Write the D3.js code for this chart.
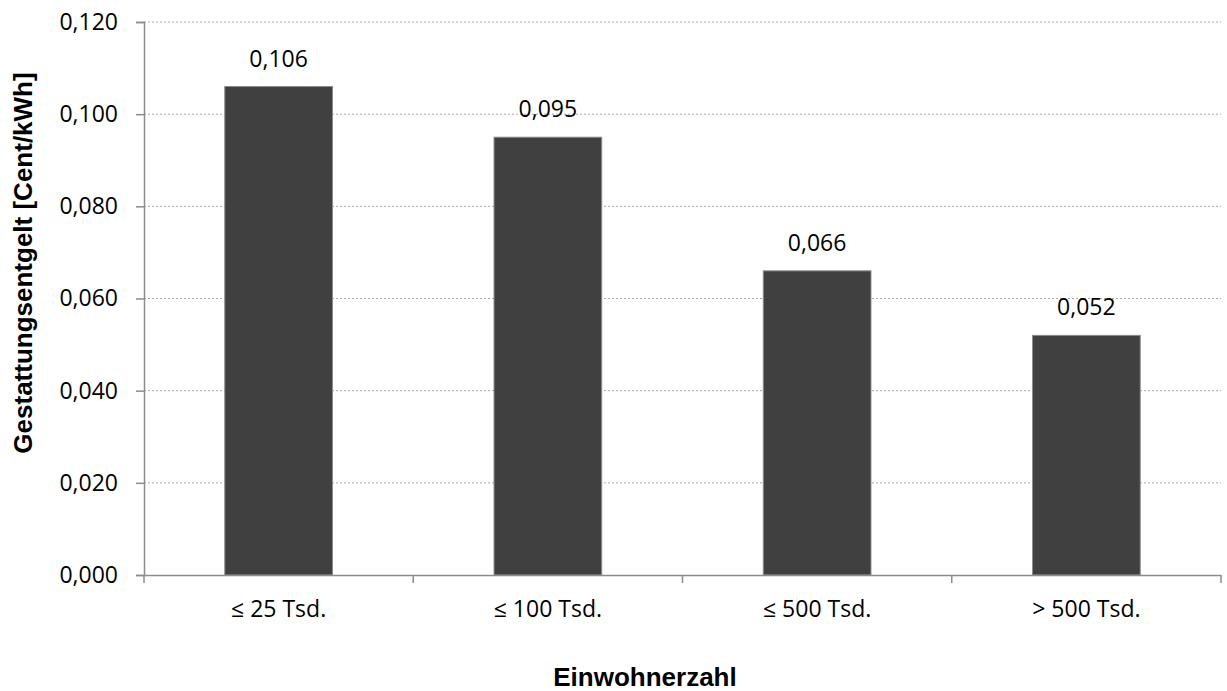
<!DOCTYPE html>
<html><head><meta charset="utf-8">
<script src="https://cdn.jsdelivr.net/npm/d3@7"></script>
<style>html,body{margin:0;padding:0;background:#fff;}</style>
</head><body>
<svg id="c" width="1227" height="691"></svg>
<script>
const categories = ["≤ 25 Tsd.", "≤ 100 Tsd.", "≤ 500 Tsd.", "> 500 Tsd."];
const values = [0.106, 0.095, 0.066, 0.052];
const valueLabels = ["0,106", "0,095", "0,066", "0,052"];
const yTicks = [0, 0.02, 0.04, 0.06, 0.08, 0.10, 0.12];
const yTitle = "Gestattungsentgelt [Cent/kWh]";
const xTitle = "Einwohnerzahl";

(function () {
const svg = d3.select("#c");
const pL = 144, pR = 1221, pT = 22, pB = 575;
const x = d3.scaleBand().domain(categories).range([pL, pR]).padding(0);
const y = d3.scaleLinear().domain([0, 0.12]).range([pB, pT]);
const fmt = d => d3.format(".3f")(d).replace(".", ",");
const tickFont = "'Open Sans', sans-serif";
const fs = "23px";

// gridlines
svg.append("g").selectAll("line").data(yTicks.filter(d => d > 0)).join("line")
  .attr("x1", pL).attr("x2", pR)
  .attr("y1", d => y(d)).attr("y2", d => y(d))
  .attr("stroke", "#a8a8a8").attr("stroke-width", 1).attr("stroke-dasharray", "2,2");

// bars
const bw = x.bandwidth() * 0.4;
svg.append("g").selectAll("rect").data(values).join("rect")
  .attr("x", (d, i) => x(categories[i]) + (x.bandwidth() - bw) / 2)
  .attr("y", d => y(d))
  .attr("width", bw)
  .attr("height", d => y(0) - y(d))
  .attr("fill", "#404040").attr("stroke", "#8c8c8c").attr("stroke-width", 1);

// value labels
svg.append("g").selectAll("text").data(values).join("text")
  .attr("x", (d, i) => x(categories[i]) + x.bandwidth() / 2)
  .attr("y", d => y(d) - 20)
  .attr("text-anchor", "middle")
  .style("font-family", tickFont).style("font-size", fs).attr("fill", "#000")
  .text((d, i) => valueLabels[i]);

// y axis
const yAxis = d3.axisLeft(y).tickValues(yTicks).tickFormat(fmt).tickSize(8).tickPadding(18);
const gy = svg.append("g").attr("transform", `translate(${pL},0)`).call(yAxis);
gy.select(".domain").attr("stroke", "#8c8c8c").attr("stroke-width", 1.5);
gy.selectAll(".tick line").attr("stroke", "#8c8c8c").attr("stroke-width", 1.5);
gy.selectAll("text").style("font-family", tickFont).style("font-size", fs).attr("fill", "#000");

// x axis
const xAxis = d3.axisBottom(x).tickSize(0).tickPadding(26);
const gx = svg.append("g").attr("transform", `translate(0,${pB})`).call(xAxis);
gx.select(".domain").attr("stroke", "#8c8c8c").attr("stroke-width", 1.5);
gx.selectAll("text").style("font-family", tickFont).style("font-size", fs).attr("fill", "#000");
const bounds = categories.map(c => x(c)).concat([x.range()[1]]);
gx.append("g").selectAll("line").data(bounds).join("line")
  .attr("x1", d => d).attr("x2", d => d).attr("y1", 0).attr("y2", 8)
  .attr("stroke", "#8c8c8c").attr("stroke-width", 1.5);

// titles
svg.append("text")
  .attr("x", 645).attr("y", 686)
  .attr("text-anchor", "middle")
  .style("font-family", "'Liberation Sans', Arial, sans-serif").style("font-weight", "bold").style("font-size", "26px")
  .text(xTitle);
svg.append("text")
  .attr("transform", "translate(32,263) rotate(-90)")
  .attr("text-anchor", "middle")
  .style("font-family", "'Liberation Sans', Arial, sans-serif").style("font-weight", "bold").style("font-size", "26px")
  .text(yTitle);
})();
</script>
</body></html>
